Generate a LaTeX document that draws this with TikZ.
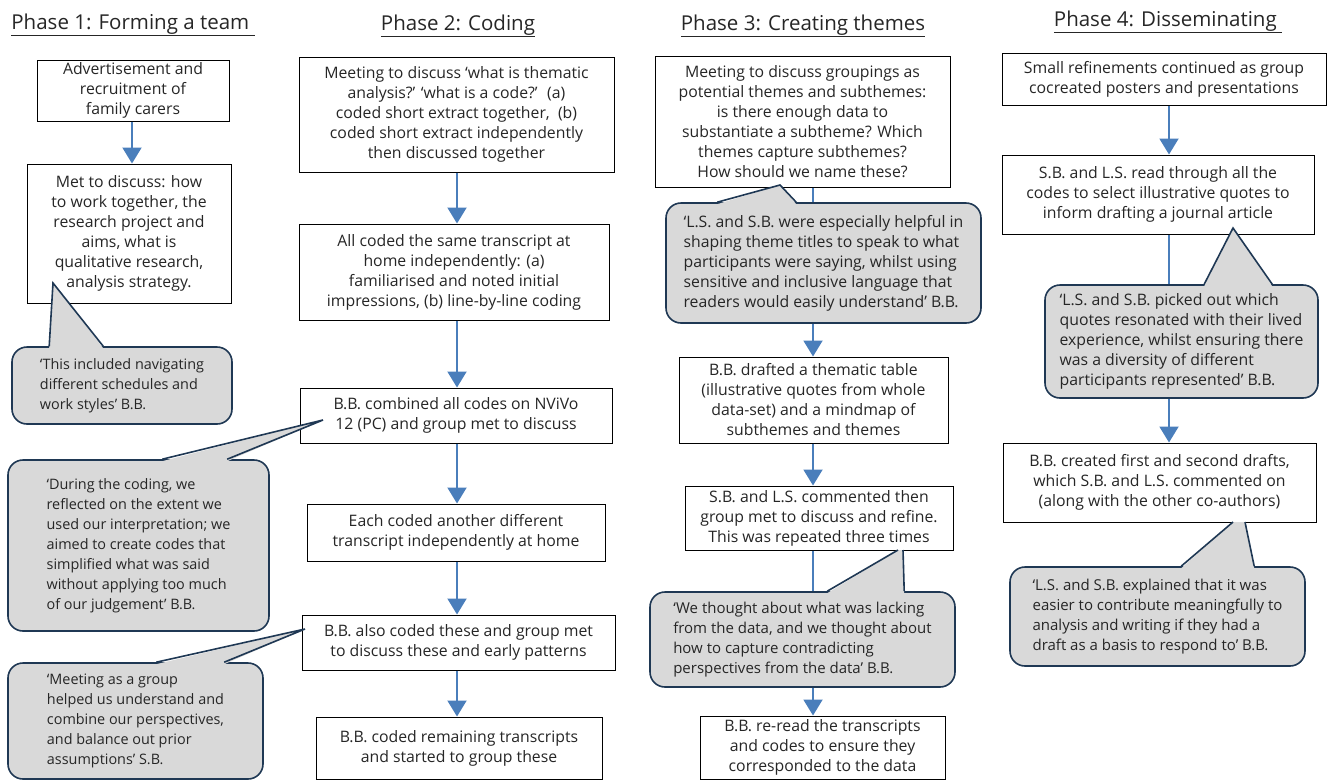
\documentclass[tikz,border=0pt]{standalone}
\usepackage{fontspec}
\setmainfont{Open Sans}
\usetikzlibrary{arrows.meta,positioning,calc}
\definecolor{flowblue}{RGB}{74,126,187}
\definecolor{quotegray}{RGB}{217,217,217}
\definecolor{quotenavy}{RGB}{31,56,84}
\definecolor{inkgray}{RGB}{38,38,38}

\begin{document}
\begin{tikzpicture}[x=1pt,y=-1pt,
    phase/.style={font=\fontsize{20.5}{24}\selectfont, text=inkgray, inner sep=0pt},
    stepbox/.style={draw=black, line width=1pt, fill=white, align=center, inner sep=0pt,
        font=\fontsize{15.8}{20}\selectfont, text=inkgray},
    quote/.style={draw=quotenavy, line width=1.6pt, fill=quotegray, rounded corners=15pt,
        align=left, inner sep=0pt, font=\fontsize{15.8}{20}\selectfont, text=inkgray},
    smallquote/.style={quote, font=\fontsize{14.4}{20}\selectfont},
    midquote/.style={quote, font=\fontsize{15}{20}\selectfont},
    flow/.style={flowblue, line width=2pt, -{Triangle[width=19pt,length=16pt]}},
    tailfill/.style={fill=quotegray},
    tailline/.style={draw=quotenavy, line width=1.6pt, line join=miter}]
\useasboundingbox (0,0) rectangle (1327,780);

% phase titles
\node[phase] (p1) at (133,25) {\underline{Phase 1: Forming a team\ }};
\node[phase] (p2) at (458,26) {\underline{Phase 2: Coding}};
\node[phase] (p3) at (803,26) {\underline{Phase 3: Creating themes}};
\node[phase] (p4) at (1168,22) {\underline{Phase 4: Disseminating\ }};

% phase 1
\node[stepbox, minimum width=192pt, minimum height=61pt] (a1) at (133,90.5)
    {Advertisement and\\recruitment of\\family carers};
\node[stepbox, minimum width=204pt, minimum height=139pt] (a2) at (129,233.5)
    {Met to discuss: how\\to work together, the\\research project and\\aims, what is\\qualitative research,\\analysis strategy.};

% phase 2
\coordinate (col2) at (457,0);
\node[stepbox, minimum width=315pt, minimum height=115pt] (b1) at (456.5,114.5)
    {Meeting to discuss ‘what is thematic\\analysis?’ ‘what is a code?’ ~(a)\\coded short extract together, ~(b)\\coded short extract independently\\then discussed together};
\node[stepbox, minimum width=310pt, minimum height=96pt] (b2) at (454,272)
    {All coded the same transcript at\\home independently: (a)\\familiarised and noted initial\\impressions, (b) line-by-line coding};
\node[stepbox, minimum width=312pt, minimum height=55pt] (b3) at (456,415.5)
    {B.B. combined all codes on NViVo\\12 (PC) and group met to discuss};
\node[stepbox, minimum width=298pt, minimum height=57pt] (b4) at (456,532.5)
    {Each coded another different\\transcript independently at home};
\node[stepbox, minimum width=313pt, minimum height=55pt] (b5) at (458.5,642.5)
    {B.B. also coded these and group met\\to discuss these and early patterns};
\node[stepbox, minimum width=286pt, minimum height=62pt] (b6) at (459,748)
    {B.B. coded remaining transcripts\\and started to group these};

% phase 3
\coordinate (col3) at (813,0);
\node[stepbox, minimum width=295pt, minimum height=131pt] (d1) at (802.5,121.5)
    {Meeting to discuss groupings as\\potential themes and subthemes:\\is there enough data to\\substantiate a subtheme? Which\\themes capture subthemes?\\How should we name these?};
\node[stepbox, minimum width=269pt, minimum height=86pt] (d2) at (813.5,400)
    {B.B. drafted a thematic table\\(illustrative quotes from whole\\data-set) and a mindmap of\\subthemes and themes};
\node[stepbox, minimum width=268pt, minimum height=64pt] (d3) at (819,518)
    {S.B. and L.S. commented then\\group met to discuss and refine.\\This was repeated three times};
\node[stepbox, minimum width=245pt, minimum height=63pt] (d4) at (822.5,747.5)
    {B.B. re-read the transcripts\\and codes to ensure they\\corresponded to the data};

% phase 4
\coordinate (col4) at (1169,0);
\node[stepbox, minimum width=324pt, minimum height=52pt] (e1) at (1164,79)
    {Small refinements continued as group\\cocreated posters and presentations};
\node[stepbox, minimum width=312pt, minimum height=79pt] (e2) at (1158,194.5)
    {S.B. and L.S. read through all the\\codes to select illustrative quotes to\\inform drafting a journal article};
\node[stepbox, minimum width=313pt, minimum height=79pt] (e3) at (1159.5,482.5)
    {B.B. created first and second drafts,\\which S.B. and L.S. commented on\\(along with the other co-authors)};

% arrows between steps
\draw[flow] (a1.south -| 132,0) -- (a2.north -| 132,0);
\draw[flow] (b1.south -| col2) -- (b2.north -| col2);
\draw[flow] (b2.south -| col2) -- (b3.north -| col2);
\draw[flow] (b3.south -| col2) -- (b4.north -| col2);
\draw[flow] (b4.south -| col2) -- (b5.north -| col2);
\draw[flow] (b5.south -| col2) -- (b6.north -| col2);
\draw[flow] (d1.south -| col3) -- (d2.north -| col3);
\draw[flow] (d2.south -| col3) -- (d3.north -| col3);
\draw[flow] (d3.south -| col3) -- (d4.north -| col3);
\draw[flow] (e1.south -| col4) -- (e2.north -| col4);
\draw[flow] (e2.south -| col4) -- (e3.north -| col4);

% quotes
\node[smallquote, minimum width=220pt, minimum height=77pt] (c1) at (122,385.5)
    {‘This included navigating\\different schedules and\\work styles’ B.B.};
\node[smallquote, minimum width=261pt, minimum height=171pt] (c2) at (138.5,545.5)
    {‘During the coding, we\\reflected on the extent we\\used our interpretation; we\\aimed to create codes that\\simplified what was said\\without applying too much\\of our judgement’ B.B.};
\node[smallquote, minimum width=255pt, minimum height=116pt] (c3) at (135.5,721)
    {‘Meeting as a group\\helped us understand and\\combine our perspectives,\\and balance out prior\\assumptions’ S.B.};
\node[quote, minimum width=315pt, minimum height=120pt] (q1) at (823.5,263)
    {‘L.S. and S.B. were especially helpful in\\shaping theme titles to speak to what\\participants were saying, whilst using\\sensitive and inclusive language that\\readers would easily understand’ B.B.};
\node[midquote, minimum width=305pt, minimum height=95pt] (q2) at (802.5,639.5)
    {‘We thought about what was lacking\\from the data, and we thought about\\how to capture contradicting\\perspectives from the data’ B.B.};
\node[quote, minimum width=273pt, minimum height=113pt] (q3) at (1181.5,341.5)
    {‘L.S. and S.B. picked out which\\quotes resonated with their lived\\experience, whilst ensuring there\\was a diversity of different\\participants represented’ B.B.};
\node[midquote, minimum width=295pt, minimum height=99pt] (q4) at (1157.5,616.5)
    {‘L.S. and S.B. explained that it was\\easier to contribute meaningfully to\\analysis and writing if they had a\\draft as a basis to respond to’ B.B.};

% quote tails
\coordinate (c1tip) at (53,283);
\coordinate (c2tip) at (323,420);
\coordinate (c3tip) at (305,629);
\coordinate (q1tip) at (780,185);
\coordinate (q2tipl) at (898,550);
\coordinate (q2tipr) at (903,550);
\coordinate (q3tip) at (1233,228);
\coordinate (q4tipl) at (1233,522);
\coordinate (q4tipr) at (1245,522);

\fill[tailfill] ([xshift=38pt,yshift=-2pt]c1.north west) -- (c1tip) -- ([xshift=92pt,yshift=-2pt]c1.north west) -- cycle;
\draw[tailline] ([xshift=38pt]c1.north west) -- (c1tip) -- ([xshift=92pt]c1.north west);
\fill[tailfill] ([xshift=155pt,yshift=-2pt]c2.north west) -- (c2tip) -- ([xshift=220pt,yshift=-2pt]c2.north west) -- cycle;
\draw[tailline] ([xshift=155pt]c2.north west) -- (c2tip) -- ([xshift=220pt]c2.north west);
\fill[tailfill] ([xshift=149pt,yshift=-2pt]c3.north west) -- (c3tip) -- ([xshift=217pt,yshift=-2pt]c3.north west) -- cycle;
\draw[tailline] ([xshift=149pt]c3.north west) -- (c3tip) -- ([xshift=217pt]c3.north west);
\fill[tailfill] ([xshift=52pt,yshift=-2pt]q1.north west) -- (q1tip) -- ([xshift=131pt,yshift=-2pt]q1.north west) -- cycle;
\draw[tailline] ([xshift=52pt]q1.north west) -- (q1tip) -- ([xshift=131pt]q1.north west);
\fill[tailfill] ([xshift=178pt,yshift=-2pt]q2.north west) -- (q2tipl) -- (q2tipr) -- ([xshift=255pt,yshift=-2pt]q2.north west) -- cycle;
\draw[tailline] ([xshift=178pt]q2.north west) -- (q2tipl) (q2tipr) -- ([xshift=255pt]q2.north west);
\fill[tailfill] ([xshift=160pt,yshift=-2pt]q3.north west) -- (q3tip) -- ([xshift=228pt,yshift=-2pt]q3.north west) -- cycle;
\draw[tailline] ([xshift=160pt]q3.north west) -- (q3tip) -- ([xshift=228pt]q3.north west);
\fill[tailfill] ([xshift=172pt,yshift=-2pt]q4.north west) -- (q4tipl) -- (q4tipr) -- ([xshift=245pt,yshift=-2pt]q4.north west) -- cycle;
\draw[tailline] ([xshift=172pt]q4.north west) -- (q4tipl) (q4tipr) -- ([xshift=245pt]q4.north west);
\end{tikzpicture}
\end{document}
